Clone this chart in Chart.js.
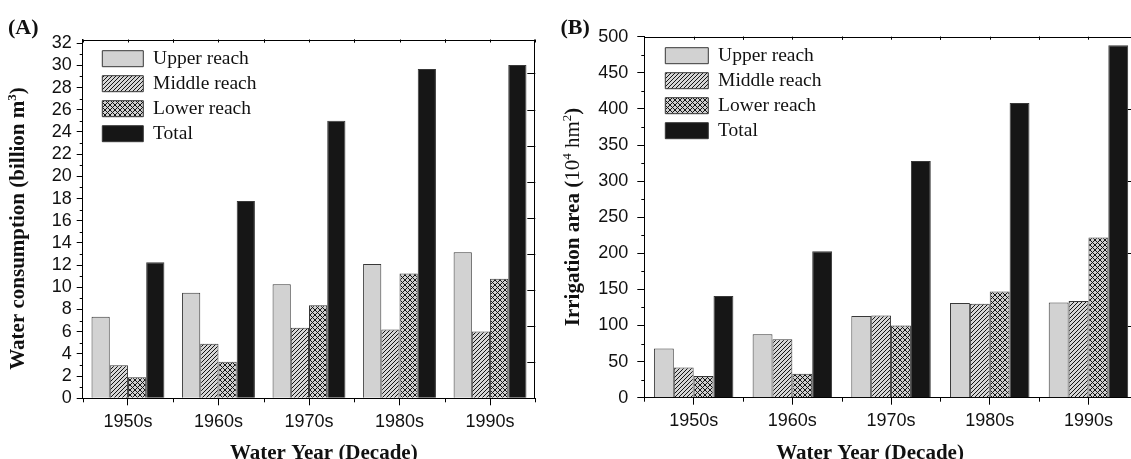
<!DOCTYPE html>
<html>
<head>
<meta charset="utf-8">
<title>Water consumption and irrigation area by decade</title>
<script src="https://cdn.jsdelivr.net/npm/chart.js@4.4.1/dist/chart.umd.min.js"></script>
<style>
  html, body { margin: 0; padding: 0; background: #fff; overflow: hidden; width: 1131px; height: 459px; }
  canvas { position: absolute; top: 0; }
  #chartA { left: 0; }
  #chartB { left: 560px; }
</style>
</head>
<body>
<canvas id="chartA" width="560" height="459"></canvas>
<canvas id="chartB" width="600" height="459"></canvas>
<script>
// ================================
// DATA
// ================================
const decades = ["1950s", "1960s", "1970s", "1980s", "1990s"];
const seriesNames = ["Upper reach", "Middle reach", "Lower reach", "Total"];

// (A) water consumption, billion m3
const waterUpper  = [7.35, 9.5, 10.27, 12.1, 13.17];
const waterMiddle = [2.97, 4.92, 6.35, 6.2, 6.03];
const waterLower  = [1.9, 3.3, 8.38, 11.25, 10.77];
const waterTotal  = [12.25, 17.78, 25.0, 29.67, 30.04];

// (B) irrigation area, 10^4 hm2
const irrUpper  = [68, 88, 113, 131, 132];
const irrMiddle = [42, 81, 114, 130, 134];
const irrLower  = [30, 33, 100, 147, 222];
const irrTotal  = [141, 203, 328, 408, 488];

// tick values
const waterTicks = [0, 2, 4, 6, 8, 10, 12, 14, 16, 18, 20, 22, 24, 26, 28, 30, 32];
const waterMinor = [1, 3, 5, 7, 9, 11, 13, 15, 17, 19, 21, 23, 25, 27, 29, 31];
const waterRight = [50, 100, 150, 200, 250, 300, 350, 400, 450];
const irrTicks = [0, 50, 100, 150, 200, 250, 300, 350, 400, 450, 500];
const irrMinor = [25, 75, 125, 175, 225, 275, 325, 375, 425, 475];
const irrRight = [100, 200, 300, 400];


// ================================
// STYLE HELPERS
// ================================
const SERIF = "'Liberation Serif', 'Times New Roman', serif";
const SANS = "'Liberation Sans', Arial, sans-serif";

Chart.defaults.font.family = SANS;
Chart.defaults.color = "#111";

function hatch(cross) {
    const s = cross ? 5 : 4;
    const c = document.createElement("canvas");
    c.width = c.height = s;
    const g = c.getContext("2d");
    g.fillStyle = cross ? "#cfcfcf" : "#d6d6d6";
    g.fillRect(0, 0, s, s);
    g.strokeStyle = "#141414";
    g.lineWidth = 1;
    g.beginPath();
    for (let k = -s; k <= s; k += s) {
        g.moveTo(k, s); g.lineTo(k + s, 0);          // "/"
        if (cross) { g.moveTo(k, 0); g.lineTo(k + s, s); }  // "\"
    }
    g.stroke();
    return g.createPattern(c, "repeat");
}

const fills = ["#d2d2d2", hatch(false), hatch(true), "#161616"];

function makeDatasets(values) {
    return values.map((v, i) => ({
        label: seriesNames[i],
        data: v,
        backgroundColor: fills[i],
        borderColor: "#383838",
        borderWidth: 1,
        barPercentage: 1,
        categoryPercentage: 0.805
    }));
}


// ================================
// PLUGINS: frame, minor ticks, titles
// ================================
function framePlugin(cfg) {
    return {
        id: "frame",
        afterDraw(chart) {
            const { ctx, chartArea: a, scales } = chart;
            const x = scales.x, y = scales.y;
            const px = v => Math.round(v) + 0.5;
            ctx.save();
            ctx.strokeStyle = "#000";
            ctx.lineWidth = 1;
            ctx.beginPath();
            ctx.moveTo(a.left, px(a.top)); ctx.lineTo(a.right, px(a.top));
            ctx.moveTo(px(a.right - 1), a.top); ctx.lineTo(px(a.right - 1), a.bottom);

            const half = (x.getPixelForValue(1) - x.getPixelForValue(0)) / 2;
            for (let i = 0; i < decades.length; i++) {
                const c = x.getPixelForValue(i);
                [c - half, c, c + half].forEach(p => {
                    ctx.moveTo(px(p), a.top); ctx.lineTo(px(p), a.top + cfg.topLen);
                });
                ctx.moveTo(px(c - half), a.bottom); ctx.lineTo(px(c - half), a.bottom + cfg.minorX);
                if (i === decades.length - 1) {
                    ctx.moveTo(px(c + half), a.bottom); ctx.lineTo(px(c + half), a.bottom + cfg.minorX);
                }
            }

            cfg.minorY.forEach(v => {
                const p = px(y.getPixelForValue(v));
                ctx.moveTo(a.left - cfg.minorLen, p); ctx.lineTo(a.left, p);
            });

            const rs = scales[cfg.rightScale];
            cfg.rightVals.forEach(v => {
                const p = px(rs.getPixelForValue(v));
                ctx.moveTo(a.right, p); ctx.lineTo(a.right - cfg.rightLen, p);
            });
            ctx.stroke();
            ctx.restore();
        }
    };
}

function drawRuns(ctx, runs, x, y, rotate) {
    ctx.save();
    ctx.translate(x, y);
    if (rotate) ctx.rotate(-Math.PI / 2);
    ctx.textBaseline = "alphabetic";
    ctx.textAlign = "left";
    ctx.fillStyle = "#111";
    let total = 0;
    runs.forEach(r => { ctx.font = r.font; total += ctx.measureText(r.text).width; });
    let cx = -total / 2;
    runs.forEach(r => {
        ctx.font = r.font;
        ctx.fillText(r.text, cx, r.dy || 0);
        cx += ctx.measureText(r.text).width;
    });
    ctx.restore();
}

function textPlugin(cfg) {
    return {
        id: "texts",
        afterDraw(chart) {
            const ctx = chart.ctx;
            ctx.save();
            ctx.fillStyle = "#111";
            ctx.font = "bold 22px " + SERIF;
            ctx.textBaseline = "alphabetic";
            ctx.fillText(cfg.panel, cfg.panelX, 33.5);
            ctx.restore();
            drawRuns(ctx, cfg.xRuns, cfg.xTitleX, 458.5, false);
            drawRuns(ctx, cfg.yRuns, cfg.yTitleX, cfg.yTitleY, true);
        }
    };
}

// the chartArea legend is laid out from the canvas top; move it into the plot box
function legendShift(dx, dy) {
    return {
        id: "legendShift",
        afterLayout(chart) {
            const lg = chart.legend, a = chart.chartArea;
            lg.left = a.left + dx;
            lg.top = a.top + dy;
            lg.right = a.right;
            lg.bottom = a.bottom;
        }
    };
}

const B21 = "bold 21px " + SERIF;
const R21 = "21px " + SERIF;
const B13 = "bold 13px " + SERIF;
const R13 = "13px " + SERIF;
const xTitleRuns = [{ text: "Water Year (Decade)", font: B21 }];


// ================================
// CHART BUILDER
// ================================
function plotPanel(canvasId, cfg) {
    const ctx = document.getElementById(canvasId).getContext("2d");
    const scales = {
        x: {
            type: "category",
            offset: true,
            grid: { offset: false, drawOnChartArea: false, tickLength: 7, color: "#000", lineWidth: 1 },
            border: { display: true, color: "#000", width: 1 },
            ticks: { padding: 6, font: { size: 18 }, color: "#111", maxRotation: 0, autoSkip: false },
            afterFit: s => { s.height = cfg.xHeight; }
        },
        y: {
            min: 0,
            max: cfg.yMax,
            grid: { drawOnChartArea: false, tickLength: cfg.tickLen, color: "#000", lineWidth: 1 },
            border: { display: true, color: "#000", width: 1 },
            ticks: { padding: cfg.tickPad, font: { size: 18 }, color: "#111", autoSkip: false },
            afterBuildTicks: s => { s.ticks = cfg.ticks.map(v => ({ value: v })); },
            afterFit: s => { s.width = cfg.yWidth; }
        }
    };
    if (cfg.rightScale === "y2") {
        scales.y2 = { display: false, min: 0, max: cfg.y2Max, position: "right" };
    }

    new Chart(ctx, {
        type: "bar",
        data: { labels: decades, datasets: makeDatasets(cfg.values) },
        options: {
            responsive: false,
            animation: false,
            devicePixelRatio: 1,
            layout: { padding: { top: cfg.top, right: cfg.right, left: 0, bottom: 0 } },
            scales: scales,
            plugins: {
                tooltip: { enabled: false },
                legend: {
                    position: "chartArea",
                    align: "start",
                    labels: {
                        boxWidth: cfg.boxWidth,
                        boxHeight: 16,
                        padding: 5.5,
                        color: "#111",
                        font: { family: SERIF, size: 19.5 }
                    }
                }
            }
        },
        plugins: [
            legendShift(cfg.legendDx, cfg.legendDy),
            framePlugin({
                topLen: 3, minorX: 4, minorLen: 3,
                minorY: cfg.minor,
                rightScale: cfg.rightScale, rightVals: cfg.rightVals, rightLen: cfg.rightLen
            }),
            textPlugin(cfg.text)
        ]
    });
}


// ================================
// RUN EVERYTHING
// ================================
plotPanel("chartA", {
    values: [waterUpper, waterMiddle, waterLower, waterTotal],
    yMax: 32.33, ticks: waterTicks, minor: waterMinor,
    rightScale: "y2", y2Max: 497, rightVals: waterRight, rightLen: 8,
    tickLen: 6, tickPad: 5,
    top: 39.5, right: 24.7, yWidth: 82.7, xHeight: 60.7,
    boxWidth: 41, legendDx: 14.1, legendDy: 3.95,
    text: {
        panel: "(A)", panelX: 8,
        xRuns: xTitleRuns, xTitleX: 323.8,
        yRuns: [
            { text: "Water consumption (billion m", font: B21 },
            { text: "3", font: B13, dy: -8 },
            { text: ")", font: B21 }
        ],
        yTitleX: 24, yTitleY: 228.5
    }
});

plotPanel("chartB", {
    values: [irrUpper, irrMiddle, irrLower, irrTotal],
    yMax: 500, ticks: irrTicks, minor: irrMinor,
    rightScale: "y", rightVals: irrRight, rightLen: 10,
    tickLen: 7, tickPad: 9,
    top: 36.7, right: 22.2, yWidth: 84.3, xHeight: 61.3,
    boxWidth: 43, legendDx: 15.5, legendDy: 3.75,
    text: {
        panel: "(B)", panelX: 0.5,
        xRuns: xTitleRuns, xTitleX: 310,
        yRuns: [
            { text: "Irrigation area (", font: B21 },
            { text: "10", font: R21 },
            { text: "4", font: R13, dy: -8 },
            { text: " hm", font: R21 },
            { text: "2", font: R13, dy: -8 },
            { text: ")", font: B21 }
        ],
        yTitleX: 19.3, yTitleY: 217
    }
});
</script>
</body>
</html>
